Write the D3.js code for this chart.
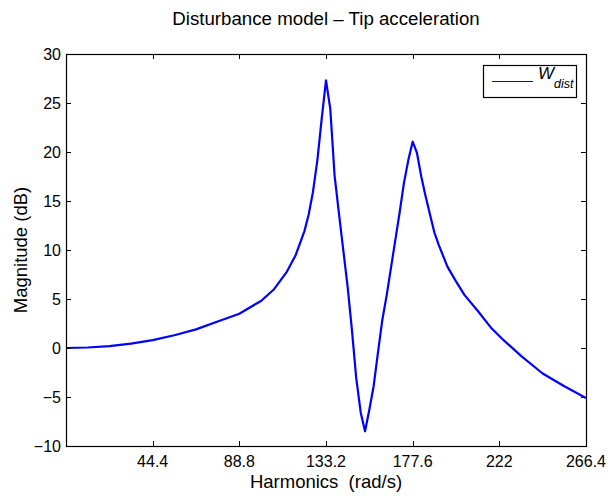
<!DOCTYPE html>
<html>
<head>
<meta charset="utf-8">
<script src="https://cdn.jsdelivr.net/npm/d3@7"></script>
<style>
  body { margin: 0; background: #fff; }
  svg { display: block; font-family: "Liberation Sans", Arial, Helvetica, sans-serif; }
</style>
</head>
<body>
<svg id="chart" width="608" height="496"></svg>
<script>
// frequency (rad/s) and magnitude (dB)
var freq = [0, 11.1, 22.2, 33.3, 44.4, 55.5, 66.6, 77.7, 88.8, 99.9,
    106.6, 113.2, 117.7, 122.1, 124.3, 126.5, 128.8, 131, 133.2, 135.4,
    137.6, 139.9, 142.1, 144.3, 146.5, 148.7, 151, 153.2, 155.4, 157.6,
    159.8, 162, 164.3, 166.5, 168.7, 170.9, 173.1, 175.4, 177.6, 179.8,
    182, 184.2, 186.5, 188.7, 191, 195.4, 199.8, 204.2, 210.9, 217.6,
    224.2, 233.1, 244.2, 255.3, 266.4]
var magDb = [0, 0.05, 0.2, 0.45, 0.8, 1.3, 1.9, 2.7, 3.5, 4.8,
    6.0, 7.8, 9.5, 11.9, 13.6, 15.9, 19.2, 23.4, 27.3, 24.4,
    17.6, 13.6, 9.9, 6.2, 1.8, -3.1, -6.6, -8.5, -6.3, -3.9,
    -0.5, 2.8, 5.4, 8.2, 11.0, 13.8, 16.8, 19.2, 21.05, 19.9,
    17.5, 15.5, 13.6, 11.8, 10.5, 8.3, 6.8, 5.4, 3.8, 2.1,
    0.8, -0.8, -2.6, -3.9, -5.1]

var xTicks = [0, 44.4, 88.8, 133.2, 177.6, 222, 266.4]
var xTickLabels = ["", "44.4", "88.8", "133.2", "177.6", "222", "266.4"]
var yTicks = [-10, -5, 0, 5, 10, 15, 20, 25, 30]

var margin = {top: 54, right: 22, bottom: 50, left: 66}
var width = 608 - margin.left - margin.right
var height = 496 - margin.top - margin.bottom

var svg = d3.select("#chart")

var x = d3.scaleLinear().domain([0, 266.4]).range([0, width])
var y = d3.scaleLinear().domain([-10, 30]).range([height, 0])

var g = svg.append("g")
    .attr("transform", "translate(" + margin.left + "," + margin.top + ")")

// title
svg.append("text")
    .attr("x", margin.left + width / 2)
    .attr("y", 25)
    .attr("text-anchor", "middle")
    .attr("font-size", 18.7)
    .text("Disturbance model \u2013 Tip acceleration")

g.append("defs").append("clipPath")
    .attr("id", "clip")
    .append("rect")
    .attr("width", width)
    .attr("height", height)

var line = d3.line()
    .x(function(d, i) { return x(freq[i]) })
    .y(function(d) { return y(d) })

g.append("g")
    .attr("clip-path", "url(#clip)")
    .append("path")
    .datum(magDb)
    .attr("fill", "none")
    .attr("stroke", "#0000ff")
    .attr("stroke-width", 2.2)
    .attr("stroke-linejoin", "round")
    .attr("d", line)

// ticks on all four sides, pointing inwards
var tickLen = 5
var ticks = g.append("g").attr("stroke", "#000").attr("stroke-width", 1)
xTicks.forEach(function(t) {
    var px = Math.round(x(t)) + 0.5
    ticks.append("line").attr("x1", px).attr("x2", px).attr("y1", height).attr("y2", height - tickLen)
    ticks.append("line").attr("x1", px).attr("x2", px).attr("y1", 0).attr("y2", tickLen)
})
yTicks.forEach(function(t) {
    var py = Math.round(y(t)) + 0.5
    ticks.append("line").attr("x1", 0).attr("x2", tickLen).attr("y1", py).attr("y2", py)
    ticks.append("line").attr("x1", width).attr("x2", width - tickLen).attr("y1", py).attr("y2", py)
})

// box
g.append("rect")
    .attr("x", 0.5).attr("y", 0.5)
    .attr("width", width).attr("height", height)
    .attr("fill", "none")
    .attr("stroke", "#000")
    .attr("stroke-width", 1.2)

// tick labels
g.append("g").selectAll("text")
    .data(xTicks)
    .join("text")
    .attr("x", function(d) { return x(d) })
    .attr("y", height + 21)
    .attr("text-anchor", "middle")
    .attr("font-size", 16)
    .text(function(d, i) { return xTickLabels[i] })

g.append("g").selectAll("text")
    .data(yTicks)
    .join("text")
    .attr("x", -5)
    .attr("y", function(d) { return y(d) })
    .attr("dy", "0.35em")
    .attr("text-anchor", "end")
    .attr("font-size", 16)
    .text(function(d) { return d < 0 ? "\u2212" + Math.abs(d) : d })

// axis labels
svg.append("text")
    .attr("x", margin.left + width / 2)
    .attr("y", 488)
    .attr("text-anchor", "middle")
    .attr("font-size", 18.5)
    .style("white-space", "pre")
    .text("Harmonics  (rad/s)")

svg.append("text")
    .attr("transform", "translate(27," + (margin.top + height / 2) + ") rotate(-90)")
    .attr("text-anchor", "middle")
    .attr("font-size", 18.5)
    .text("Magnitude (dB)")

// legend
var leg = svg.append("g").attr("transform", "translate(483,65)")
leg.append("rect")
    .attr("x", 0.5).attr("y", 0.5)
    .attr("width", 93).attr("height", 32)
    .attr("fill", "#fff")
    .attr("stroke", "#000")
    .attr("stroke-width", 1.2)
leg.append("line")
    .attr("x1", 9).attr("x2", 50)
    .attr("y1", 16.5).attr("y2", 16.5)
    .attr("stroke", "#0000ff")
    .attr("stroke-width", 1)
var lt = leg.append("text")
    .attr("x", 55)
    .attr("y", 14)
    .attr("font-size", 17)
    .attr("font-style", "italic")
lt.append("tspan").text("W")
lt.append("tspan")
    .attr("dy", 9)
    .attr("font-size", 12.5)
    .text("dist")
</script>
</body>
</html>
